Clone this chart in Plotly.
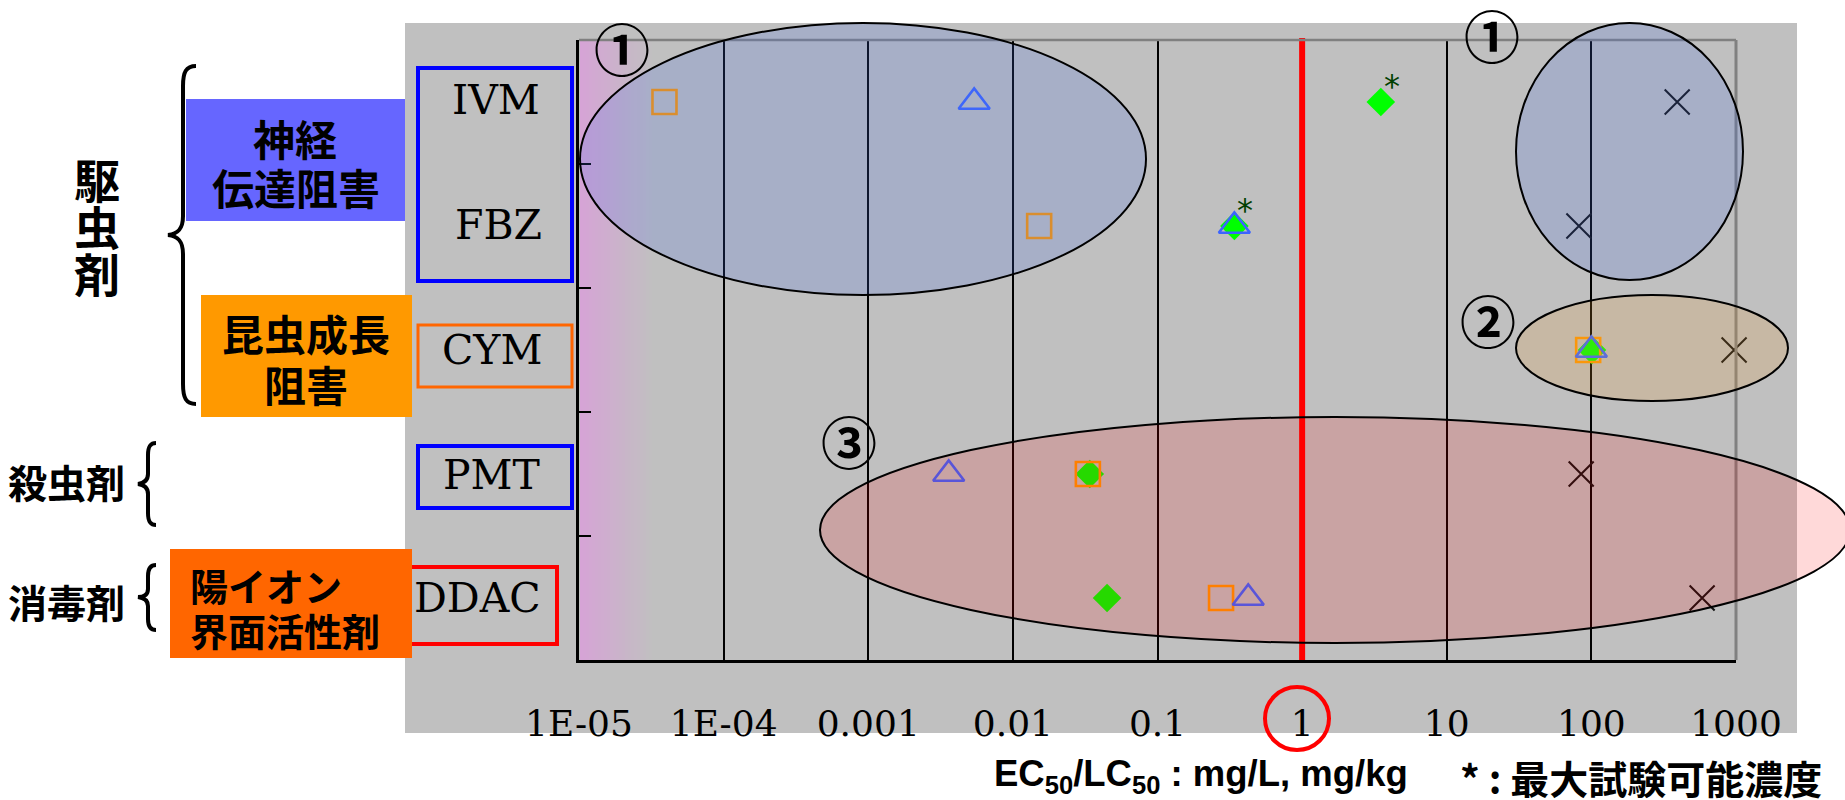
import plotly.graph_objects as go
import math

# ---------------- data ----------------
categories = ["IVM", "FBZ", "CYM", "PMT", "DDAC"]
algae_ec50 = [3.9e-5, 0.0152, 95, 0.033, 0.275]        # orange open squares
daphnia_ec50 = [0.0054, 0.34, 100, 0.0036, 0.424]     # blue open triangles
fish_lc50 = [3.5, 0.34, 101, 0.034, 0.0448]            # green diamonds
fish_max_tested = [True, True, False, False, False]    # '*' = max testable conc.
soil_lc50 = [392, 82, 970, 85, 583]                    # black crosses
tick_values = [1e-5, 1e-4, 1e-3, 1e-2, 1e-1, 1, 10, 100, 1000]
tick_labels = ["1E-05", "1E-04", "0.001", "0.01", "0.1", "1", "10", "100", "1000"]
threshold = 1

# ---------------- geometry helpers (pixel -> paper) ----------------
W, H = 1845, 800
L, R, T, B = 579, 1736, 40, 660


def px(x):
    return (x - L) / (R - L)


def py(y):
    return (B - y) / (B - T)


XMIN, XMAX = -5, 3


def xpaper(v):
    return (math.log10(v) - XMIN) / (XMAX - XMIN)


fig = go.Figure()

fig.add_trace(go.Scatter(
    x=fish_lc50, y=categories, mode="markers",
    marker=dict(symbol="diamond", size=22, color="rgb(0,255,0)", line=dict(width=0)),
    showlegend=False, hoverinfo="x+y", cliponaxis=False))
fig.add_trace(go.Scatter(
    x=algae_ec50, y=categories, mode="markers",
    marker=dict(symbol="square-open", size=24, color="rgb(255,150,0)", line=dict(width=2.6)),
    showlegend=False, hoverinfo="x+y", cliponaxis=False))
fig.add_trace(go.Scatter(
    x=daphnia_ec50, y=categories, mode="markers",
    marker=dict(symbol="triangle-up-open", size=27, color="rgb(60,100,255)", line=dict(width=2.6)),
    showlegend=False, hoverinfo="x+y", cliponaxis=False))
fig.add_trace(go.Scatter(
    x=soil_lc50, y=categories, mode="markers",
    marker=dict(symbol="x-thin", size=25, color="black", line=dict(width=2, color="#101010")),
    showlegend=False, hoverinfo="x+y", cliponaxis=False))

shapes = []


def rect(x0, y0, x1, y1, fill=None, line=None, lw=0, layer="below"):
    shapes.append(dict(type="rect", xref="paper", yref="paper",
                       x0=px(x0), x1=px(x1), y0=py(y1), y1=py(y0),
                       fillcolor=fill if fill else "rgba(0,0,0,0)",
                       line=dict(color=line if line else "rgba(0,0,0,0)", width=lw),
                       layer=layer))


def ellipse(x0, y0, x1, y1, fill, lw=2, color="black", layer="above"):
    shapes.append(dict(type="circle", xref="paper", yref="paper",
                       x0=px(x0), x1=px(x1), y0=py(y1), y1=py(y0),
                       fillcolor=fill, line=dict(color=color, width=lw), layer=layer))


def path(points_cmd, lw=4):
    s = ""
    for cmd, pts in points_cmd:
        s += cmd + " " + " ".join(f"{px(a):.5f},{py(b):.5f}" for a, b in pts) + " "
    shapes.append(dict(type="path", xref="paper", yref="paper", path=s.strip(),
                       line=dict(color="black", width=lw), layer="below"))


# gray background panel
rect(405, 23, 1797, 733, fill="rgb(192,192,192)")

# pink gradient near the left axis
g0, g1, n = 580, 655, 25
c0, c1 = (214, 164, 214), (192, 192, 192)
for i in range(n):
    t = i / (n - 1)
    c = tuple(round(c0[k] + (c1[k] - c0[k]) * t) for k in range(3))
    xa = g0 + (g1 - g0) * i / n
    xb = g0 + (g1 - g0) * (i + 1) / n + 0.6
    rect(xa, T, xb, B, fill=f"rgb{c}")

# label outline boxes
rect(418, 68, 572, 281, line="#0000FF", lw=4)
rect(418, 325, 572, 387, line="#FF6600", lw=3)
rect(418, 446, 572, 508, line="#0000FF", lw=4)
rect(340, 567, 557, 644, line="#FF0000", lw=4)

# colored class boxes
rect(186, 99, 405, 221, fill="#6666FF")
rect(201, 295, 412, 417, fill="#FF9900")
rect(170, 549, 412, 658, fill="#FF6600")

# braces
path([("M", [(196, 66)]), ("C", [(186, 66), (183, 72), (183, 86)]), ("L", [(183, 216)]),
      ("C", [(183, 229), (178, 234), (168, 235)]), ("C", [(178, 236), (183, 241), (183, 254)]),
      ("L", [(183, 384)]), ("C", [(183, 398), (186, 404), (196, 404)])])
path([("M", [(156, 443)]), ("C", [(150, 443), (148, 447), (148, 455)]), ("L", [(148, 474)]),
      ("C", [(148, 480), (145, 483), (138, 484)]), ("C", [(145, 485), (148, 488), (148, 494)]),
      ("L", [(148, 513)]), ("C", [(148, 521), (150, 525), (156, 525)])])
path([("M", [(156, 565)]), ("C", [(150, 565), (148, 569), (148, 576)]), ("L", [(148, 589)]),
      ("C", [(148, 594), (145, 597), (138, 597)]), ("C", [(145, 598), (148, 601), (148, 606)]),
      ("L", [(148, 619)]), ("C", [(148, 626), (150, 630), (156, 630)])])

# threshold line at 1 mg/L
shapes.append(dict(type="line", xref="paper", yref="paper", x0=xpaper(threshold), x1=xpaper(threshold),
                   y0=0, y1=py(38), line=dict(color="red", width=6), layer="above"))
# frame (top and right in gray)
shapes.append(dict(type="line", xref="paper", yref="paper", x0=0, x1=1, y0=1, y1=1,
                   line=dict(color="rgb(128,128,128)", width=2.5), layer="above"))
shapes.append(dict(type="line", xref="paper", yref="paper", x0=1, x1=1, y0=0, y1=1,
                   line=dict(color="rgb(128,128,128)", width=3), layer="above"))

# grouping ellipses (translucent overlays)
ellipse(580, 23, 1146, 295, "rgba(72,112,232,0.2)")
ellipse(1516, 23, 1743, 280, "rgba(72,112,232,0.2)")
ellipse(1516, 295, 1788, 401, "rgba(232,157,57,0.2)")
ellipse(820, 417, 1850, 643, "rgba(255,0,0,0.15)")

# red circle around tick label "1"
ellipse(1265, 687, 1329, 750, "rgba(0,0,0,0)", lw=4, color="red")

annotations = []


def ann(text, x, y, size, family, color="black", xanchor="center"):
    annotations.append(dict(text=text, x=px(x), y=py(y), xref="paper", yref="paper",
                            xanchor=xanchor, yanchor="middle", showarrow=False,
                            font=dict(size=size, family=family, color=color)))


# '*' marks (max testable concentration) attached to fish data points
for v, cat, flag in zip(fish_lc50, categories, fish_max_tested):
    if flag:
        annotations.append(dict(text="*", x=math.log10(v), y=cat, xref="x", yref="y",
                                xanchor="center", yanchor="middle", xshift=11, yshift=16,
                                showarrow=False,
                                font=dict(size=32, family="DejaVu Sans", color="#004000")))

CJK = "Noto Sans CJK JP"
SER = "DejaVu Serif"
for ch, yy in zip(["駆", "虫", "剤"], [178, 225, 272]):
    ann(f"<b>{ch}</b>", 97, yy, 46, CJK)
ann("<b>神経</b>", 295, 137, 42, CJK)
ann("<b>伝達阻害</b>", 296, 187, 42, CJK)
ann("<b>昆虫成長</b>", 306, 332, 42, CJK)
ann("<b>阻害</b>", 306, 383, 42, CJK)
ann("<b>殺虫剤</b>", 66, 481, 39, CJK)
ann("<b>消毒剤</b>", 66, 601, 39, CJK)
ann("<b>陽イオン</b>", 188, 584, 38, CJK, xanchor="left")
ann("<b>界面活性剤</b>", 188, 629, 38, CJK, xanchor="left")

ann("IVM", 496, 100, 41, SER)
ann("FBZ", 498, 225, 41, SER)
ann("CYM", 492, 350, 41, SER)
ann("PMT", 491, 475, 41, SER)
ann("DDAC", 477, 598, 41, SER)

ann("<b>①</b>", 622, 47, 56, CJK)
ann("<b>①</b>", 1492, 33, 56, CJK)
ann("<b>②</b>", 1488, 318, 56, CJK)
ann("<b>③</b>", 849, 439, 56, CJK)

ann("<b>EC<sub>50</sub>/LC<sub>50</sub> : mg/L, mg/kg</b>", 1201, 776, 36.5, "Liberation Sans")
ann("<b>* : 最大試験可能濃度</b>", 1641, 777, 39, CJK)

fig.update_layout(
    width=W, height=H,
    margin=dict(l=L, r=W - R, t=T, b=H - B, pad=0),
    paper_bgcolor="white", plot_bgcolor="rgb(192,192,192)",
    shapes=shapes, annotations=annotations,
    xaxis=dict(type="log", range=[XMIN, XMAX], tickvals=tick_values, ticktext=tick_labels,
               showgrid=True, gridcolor="black", gridwidth=2, zeroline=False,
               showline=True, linecolor="black", linewidth=3, ticks="",
               tickfont=dict(family=SER, size=36, color="black"), ticklabelstandoff=30),
    yaxis=dict(type="category", categoryorder="array", categoryarray=categories,
               range=[len(categories) - 0.5, -0.5], showgrid=False, zeroline=False,
               showline=True, linecolor="black", linewidth=3,
               ticks="inside", tickson="boundaries", ticklen=12, tickwidth=2, tickcolor="black",
               showticklabels=False),
)

fig.write_html("out.html", config={"displayModeBar": False},
               post_script="document.body.style.margin='0';")
